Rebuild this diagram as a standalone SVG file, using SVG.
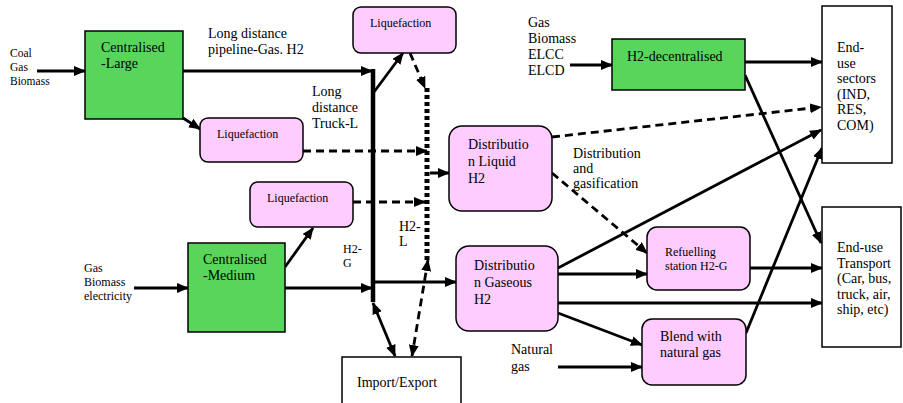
<svg xmlns="http://www.w3.org/2000/svg" width="903" height="403" viewBox="0 0 903 403" font-family="'Liberation Serif', 'DejaVu Serif', 'Times New Roman', Times, serif">
<style>
text{font-family:'Liberation Serif','DejaVu Serif','Times New Roman',Times,serif;fill:#000;font-size:14px}
.s12{font-size:12px}
.s11{font-size:11.5px}
.g{fill:#5ad55c;stroke:#000;stroke-width:1.5}
.p{fill:#ffccff;stroke:#000;stroke-width:1.5}
.w{fill:#fff;stroke:#000;stroke-width:1.5}
.c{stroke:#000;stroke-width:2.8;fill:none}
.d{stroke:#000;stroke-width:2.8;fill:none;stroke-dasharray:8 5}
.a{marker-end:url(#ah)}
.b{marker-start:url(#ah);marker-end:url(#ah)}
</style>
<defs>
<marker id="ah" viewBox="0 0 12 10" refX="11" refY="5" markerWidth="12" markerHeight="10" markerUnits="userSpaceOnUse" orient="auto-start-reverse">
<path d="M0,0 L12,5 L0,10 z" fill="#000"/>
</marker>
</defs>
<rect width="903" height="403" fill="#fff"/>

<g id="connectors">
<line class="c a" x1="37" y1="71" x2="85" y2="71"/>
<line class="c a" x1="183" y1="71" x2="372" y2="71"/>
<line x1="373" y1="69" x2="373" y2="302" stroke="#000" stroke-width="4.5"/>
<line class="c a" x1="183" y1="118" x2="200" y2="129"/>
<line class="d a" x1="303" y1="151" x2="427" y2="151"/>
<line class="c a" x1="374" y1="92" x2="403" y2="53"/>
<line class="d a" x1="410" y1="53" x2="425" y2="88"/>
<line x1="427" y1="88" x2="427" y2="262" stroke="#000" stroke-width="5" stroke-dasharray="4 3"/>
<line class="d a" x1="430" y1="173" x2="449" y2="173"/>
<line class="d a" x1="353" y1="202" x2="425" y2="202"/>
<line class="c a" x1="134" y1="288" x2="188" y2="288"/>
<line class="c a" x1="285" y1="267" x2="313" y2="228"/>
<line class="c a" x1="285" y1="288" x2="372" y2="288"/>
<line class="c a" x1="375" y1="282" x2="456" y2="282"/>
<line class="c b" x1="373" y1="303" x2="395" y2="356"/>
<line class="d b" x1="428" y1="260" x2="412" y2="356"/>
<line class="c a" x1="570" y1="65" x2="612" y2="65"/>
<line class="c a" x1="745" y1="62" x2="822" y2="62"/>
<line class="c a" x1="745" y1="75" x2="821" y2="243"/>
<line class="d a" x1="552" y1="137" x2="821" y2="107"/>
<line class="d a" x1="552" y1="173" x2="647" y2="253"/>
<line class="c a" x1="558" y1="268" x2="821" y2="130"/>
<line class="c a" x1="558" y1="274" x2="647" y2="274"/>
<line class="c a" x1="558" y1="303" x2="822" y2="303"/>
<line class="c a" x1="558" y1="313" x2="642" y2="345"/>
<line class="c a" x1="558" y1="367" x2="642" y2="367"/>
<line class="c a" x1="746" y1="333" x2="822" y2="148"/>
<line class="c a" x1="750" y1="268" x2="822" y2="268"/>
</g>

<g id="label-coal">
<text class="s11" x="10" y="57">Coal</text>
<text class="s11" x="10" y="71">Gas</text>
<text class="s11" x="10" y="85">Biomass</text>
</g>
<g id="centralised-large">
<rect class="g" x="85" y="31" width="98" height="88"/>
<text x="101" y="52">Centralised</text>
<text x="101" y="68">-Large</text>
</g>
<g id="label-pipeline">
<text x="208" y="38">Long distance</text>
<text x="208" y="54">pipeline-Gas. H2</text>
</g>
<g id="label-truck">
<text x="312" y="96">Long</text>
<text x="312" y="112">distance</text>
<text x="312" y="128">Truck-L</text>
</g>
<g id="liquefaction-1">
<rect class="p" x="200" y="118" width="103" height="44" rx="8"/>
<text class="s12" x="217" y="138">Liquefaction</text>
</g>
<g id="liquefaction-top">
<rect class="p" x="353" y="7" width="103" height="46" rx="8"/>
<text class="s12" x="370" y="27">Liquefaction</text>
</g>
<g id="liquefaction-2">
<rect class="p" x="250" y="182" width="103" height="45" rx="8"/>
<text class="s12" x="267" y="202">Liquefaction</text>
</g>
<g id="label-gas-biomass-electricity">
<text class="s12" x="84" y="272">Gas</text>
<text class="s12" x="84" y="286">Biomass</text>
<text class="s12" x="84" y="300">electricity</text>
</g>
<g id="centralised-medium">
<rect class="g" x="188" y="243" width="97" height="89"/>
<text x="203" y="264">Centralised</text>
<text x="203" y="280">-Medium</text>
</g>
<g id="label-h2g">
<text class="s12" x="343" y="253">H2-</text>
<text class="s12" x="343" y="267">G</text>
</g>
<g id="label-h2l">
<text x="399" y="231">H2-</text>
<text x="399" y="246">L</text>
</g>
<g id="import-export">
<rect class="w" x="342" y="357" width="119" height="60"/>
<text x="357" y="387">Import/Export</text>
</g>
<g id="distribution-liquid">
<rect class="p" x="449" y="126" width="103" height="85" rx="13"/>
<text x="468" y="149">Distributio</text>
<text x="468" y="166">n Liquid</text>
<text x="468" y="183">H2</text>
</g>
<g id="distribution-gaseous">
<rect class="p" x="456" y="246" width="102" height="85" rx="13"/>
<text x="474" y="270">Distributio</text>
<text x="474" y="287">n Gaseous</text>
<text x="474" y="304">H2</text>
</g>
<g id="label-distribution-gasification">
<text x="573" y="158">Distribution</text>
<text x="573" y="173">and</text>
<text x="573" y="188">gasification</text>
</g>
<g id="label-natural-gas">
<text x="511" y="354">Natural</text>
<text x="511" y="371">gas</text>
</g>
<g id="label-gas-elcc">
<text x="528" y="27">Gas</text>
<text x="528" y="43">Biomass</text>
<text x="528" y="59">ELCC</text>
<text x="528" y="75">ELCD</text>
</g>
<g id="h2-decentralised">
<rect class="g" x="612" y="39" width="133" height="51"/>
<text x="627" y="61">H2-decentralised</text>
</g>
<g id="refuelling-station">
<rect class="p" x="647" y="227" width="103" height="63" rx="10"/>
<text class="s12" x="665" y="256">Refuelling</text>
<text class="s12" x="665" y="270">station H2-G</text>
</g>
<g id="blend">
<rect class="p" x="642" y="319" width="104" height="66" rx="10"/>
<text x="660" y="341">Blend with</text>
<text x="660" y="357">natural gas</text>
</g>
<g id="end-use-sectors">
<rect class="w" x="822" y="6" width="70" height="157"/>
<text x="837" y="52">End-</text>
<text x="837" y="67.5">use</text>
<text x="837" y="83">sectors</text>
<text x="837" y="98.5">(IND,</text>
<text x="837" y="114">RES,</text>
<text x="837" y="129.5">COM)</text>
</g>
<g id="end-use-transport">
<rect class="w" x="822" y="207" width="79" height="140"/>
<text x="837" y="252">End-use</text>
<text x="837" y="267.5">Transport</text>
<text x="837" y="283">(Car, bus,</text>
<text x="837" y="298.5">truck, air,</text>
<text x="837" y="314">ship, etc)</text>
</g>
</svg>
